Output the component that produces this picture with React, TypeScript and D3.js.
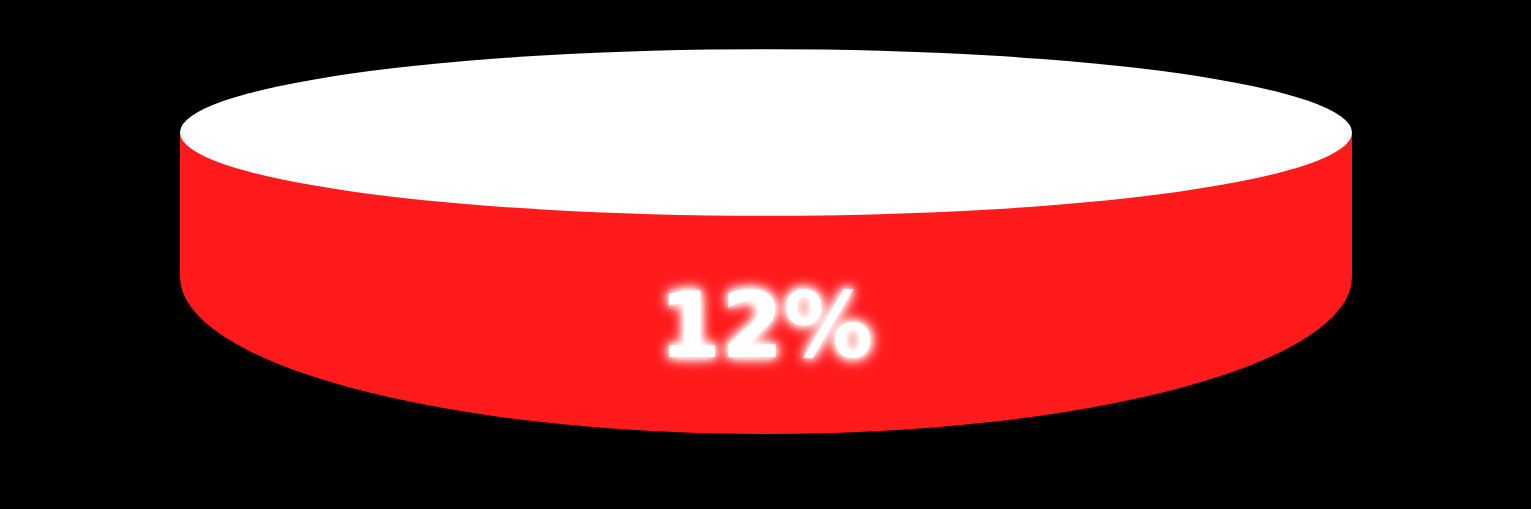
import React from "react";
import * as d3 from "d3";

const categories: string[] = ["Completed"];
const values: number[] = [12];
const tickLabels: string[] = ["12%"];

const W = 1531;
const H = 509;

export default function App() {
  const x = d3.scaleLinear().domain([0, 1]).range([180, 1352]);
  const cx = (x(0) + x(1)) / 2;
  const rx = (x(1) - x(0)) / 2;
  const topCy = 132.5;
  const topRy = 83.3;
  const botCy = 277;
  const botRy = 157;

  const sidePath =
    `M${x(0)},${topCy} L${x(0)},${botCy} ` +
    `A${rx},${botRy} 0 0 0 ${x(1)},${botCy} ` +
    `L${x(1)},${topCy} Z`;

  const label = d3.format(".0f")(values[0]) + "%";

  return (
    <div
      style={{
        position: "fixed",
        left: 0,
        top: 0,
        width: W,
        height: H,
        background: "#000",
        overflow: "hidden",
      }}
    >
      <svg width={W} height={H} style={{ display: "block", background: "#000" }}>
        <defs>
          <filter id="glow" x="-30%" y="-60%" width="160%" height="220%">
            <feGaussianBlur in="SourceGraphic" stdDeviation="7" result="b1" />
            <feGaussianBlur in="SourceGraphic" stdDeviation="3" result="b2" />
            <feMerge>
              <feMergeNode in="b1" />
              <feMergeNode in="b1" />
              <feMergeNode in="b2" />
              <feMergeNode in="SourceGraphic" />
            </feMerge>
          </filter>
        </defs>
        <rect width={W} height={H} fill="#000" />
        <g data-category={categories[0]}>
          <path d={sidePath} fill="#ff1a1c" />
          <ellipse cx={cx} cy={topCy} rx={rx} ry={topRy} fill="#ffffff" />
        </g>
        <text
          x={cx}
          y={357}
          textAnchor="middle"
          fill="#ffffff"
          filter="url(#glow)"
          style={{
            fontFamily: "'DejaVu Sans', sans-serif",
            fontWeight: 700,
            fontSize: 90,
          }}
          textLength={214}
          lengthAdjust="spacingAndGlyphs"
        >
          {label || tickLabels[0]}
        </text>
      </svg>
    </div>
  );
}
